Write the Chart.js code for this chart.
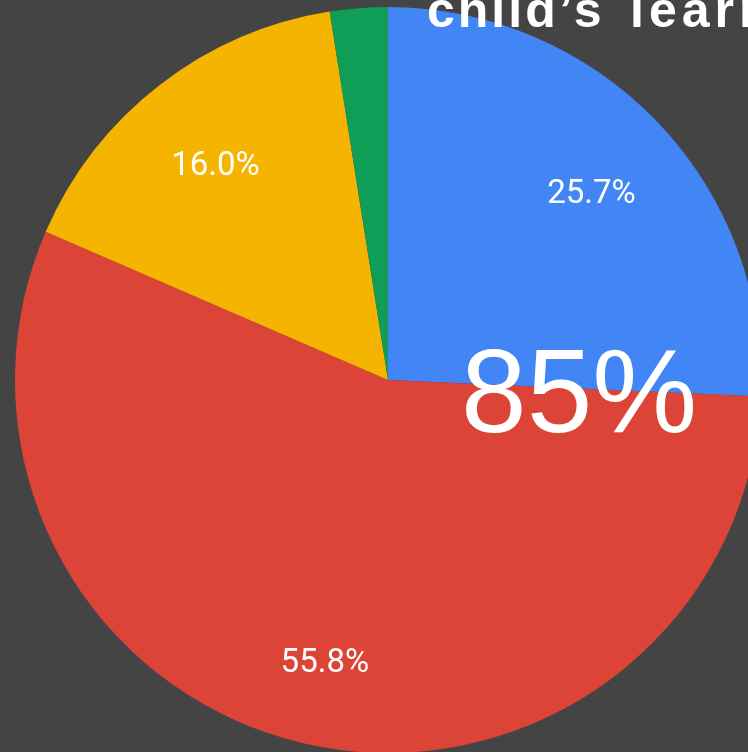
<!DOCTYPE html>
<html>
<head>
<meta charset="utf-8">
<script src="https://cdn.jsdelivr.net/npm/chart.js@4"></script>
<style>
  html, body { margin: 0; padding: 0; background: #444444; overflow: hidden; }
  #wrap { position: absolute; left: 0; top: 0; width: 776px; height: 760px; }
</style>
</head>
<body>
<div id="wrap"><canvas id="chart" width="776" height="760"></canvas></div>
<script>
'use strict';
// chart data
const categories = ['Option A', 'Option B', 'Option C', 'Option D'];
const shares = [25.7, 55.8, 16.0, 2.5];
const sliceColors = ['#4285F4', '#DB4437', '#F4B400', '#0F9D58'];
const titleWords = ['child\u2019s', 'learning'];
const bigNumber = '85%';

// percent labels inside the slices (hides the tiny one)
const sliceLabels = {
  id: 'sliceLabels',
  afterDatasetsDraw(chart) {
    const ctx = chart.ctx;
    const meta = chart.getDatasetMeta(0);
    ctx.save();
    ctx.fillStyle = '#ffffff';
    ctx.font = '33px Roboto';
    ctx.textAlign = 'center';
    ctx.textBaseline = 'alphabetic';
    meta.data.forEach((arc, i) => {
      if (shares[i] < 5) return;
      const mid = (arc.startAngle + arc.endAngle) / 2;
      const r = arc.outerRadius * 0.755;
      ctx.fillText(shares[i].toFixed(1) + '%', arc.x + Math.cos(mid) * r, arc.y + Math.sin(mid) * r + 18);
    });
    ctx.restore();
  }
};

// the overlay texts: cut-off title and the big number
const overlayText = {
  id: 'overlayText',
  afterDraw(chart) {
    const ctx = chart.ctx;
    ctx.save();
    ctx.fillStyle = '#ffffff';
    ctx.textBaseline = 'alphabetic';
    ctx.textAlign = 'left';
    ctx.font = 'bold 50px "Liberation Sans", Arial, sans-serif';
    if ('letterSpacing' in ctx) ctx.letterSpacing = '3px';
    ctx.fillText(titleWords[0], 427, 27);
    if ('letterSpacing' in ctx) ctx.letterSpacing = '5px';
    ctx.fillText(titleWords[1], 630, 27);
    if ('letterSpacing' in ctx) ctx.letterSpacing = '0px';
    ctx.font = '118px "Liberation Sans", Arial, sans-serif';
    ctx.fillText(bigNumber, 461, 432);
    ctx.restore();
  }
};

const data = {
  labels: categories,
  datasets: [{
    data: shares,
    backgroundColor: sliceColors,
    borderWidth: 0
  }]
};

const config = {
  type: 'pie',
  data: data,
  options: {
    responsive: false,
    animation: false,
    layout: { padding: 7 },
    plugins: {
      legend: { display: false },
      tooltip: { enabled: false },
      title: { display: false }
    }
  },
  plugins: [sliceLabels, overlayText]
};

const canvasElem = document.getElementById('chart');
const myChart = new Chart(canvasElem, config);
</script>
</body>
</html>
